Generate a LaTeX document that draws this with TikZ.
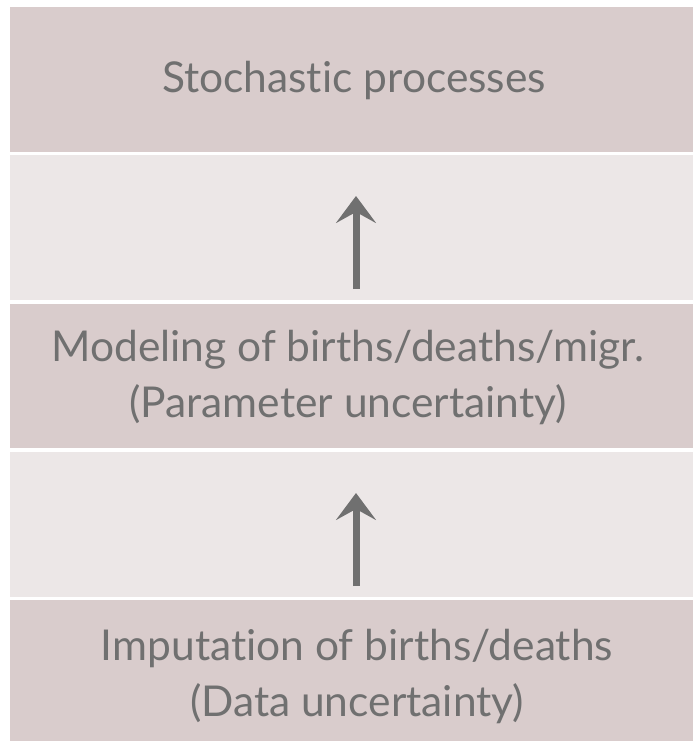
\documentclass[tikz,border=0pt]{standalone}
\usepackage{fontspec}
\setmainfont[Ligatures={NoCommon,NoContextual}]{Lato}
\usetikzlibrary{arrows.meta}
\definecolor{banddark}{RGB}{217,204,204}
\definecolor{bandlight}{RGB}{236,231,231}
\definecolor{txtgray}{RGB}{112,112,112}
\tikzset{
  band/.style={fill=#1, draw=none, inner sep=0pt, outer sep=0pt},
  lbl/.style={text=txtgray, align=center, font=\fontsize{42.5}{56}\selectfont, inner sep=0pt},
  uparrow/.style={draw=txtgray, line width=7pt, -{Stealth[length=27pt, width=40pt, inset=11pt]}},
}
\begin{document}
\begin{tikzpicture}[x=1pt, y=-1pt]
\useasboundingbox (0,0) rectangle (693,741);
\fill[band=banddark] (10,7) rectangle (693,152);
\fill[band=bandlight] (10,155) rectangle (693,300);
\fill[band=banddark] (10,304) rectangle (693,448);
\fill[band=bandlight] (10,452) rectangle (693,597);
\fill[band=banddark] (10,600) rectangle (693,741);
\node[lbl] (sp) at (354,80) {Stochastic processes};
\node[lbl] (mod) at (348,377) {Modeling of births/deaths/migr.\\(Parameter uncertainty)};
\node[lbl] (imp) at (357,676) {Imputation of births/deaths\\(Data uncertainty)};
\coordinate (a1s) at (356,289);
\coordinate (a1e) at (356,196);
\coordinate (a2s) at (356,586);
\coordinate (a2e) at (356,493);
\draw[uparrow] (a1s) -- (a1e);
\draw[uparrow] (a2s) -- (a2e);
\end{tikzpicture}
\end{document}
